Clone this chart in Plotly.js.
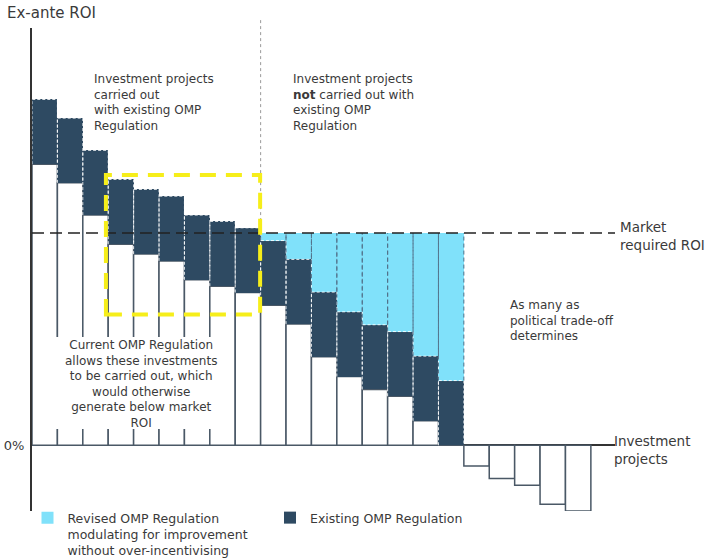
<!DOCTYPE html>
<html><head><meta charset="utf-8">
<script src="https://cdn.plot.ly/plotly-3.0.1.min.js"></script>
<style>html,body{margin:0;padding:0;background:#fff}#chart{width:708px;height:560px}</style>
</head><body><div id="chart"></div>
<script>
// ---- data (10 = market required ROI) ----
const projects = [1,2,3,4,5,6,7,8,9,10,11,12,13,14,15,16,17,18,19,20,21,22];
const baseROI = [13.25,12.37,10.85,9.48,9.01,8.69,7.80,7.50,7.20,6.60,5.71,4.17,3.24,2.63,2.31,1.15,0,-0.98,-1.57,-1.89,-2.78,-3.10];
const existingOMP = [3.05,3.05,3.05,3.05,3.05,3.05,3.05,3.05,3.05,3.05,3.05,3.05,3.05,3.05,3.05,3.05,3.05,0,0,0,0,0];
const revisedOMP = [0,0,0,0,0,0,0,0,0,0.35,1.24,2.78,3.71,4.32,4.64,5.80,6.95,0,0,0,0,0];
const marketROI = 10;
const yTickVals = [0];
const yTickText = ['0%'];
const splitAt = 9.5;           // boundary between carried-out / not carried-out
const highlightBox = {x0: 3.41, x1: 9.48, y0: 6.16, y1: 12.74};

// ---- styling / layout ----
const FONT = '"DejaVu Sans", sans-serif';
const TXT = '#3a3a3a';
const DARK = '#2e4a62';
const LIGHT = '#80e1fa';
const xRange = [0.5, 23.45];
const yRange = [-3.1, 19.67];
const M = {l: 32, r: 93, t: 28, b: 49, autoexpand: false};
const PW = 708 - M.l - M.r, PH = 560 - M.t - M.b;
const px = x => (x - M.l) / PW;
const py = y => (M.t + PH - y) / PH;

// dashed outlines of the OMP segments, built from the data
const darkX = [], darkY = [], lightX = [], lightY = [];
projects.forEach((p, i) => {
  if (existingOMP[i] > 0) {
    const b = Math.max(baseROI[i], 0), t = b + existingOMP[i];
    darkX.push(p - 0.5, p - 0.5, p + 0.5, p + 0.5, null);
    darkY.push(b, t, t, b, null);
    if (revisedOMP[i] > 0) {
      const t2 = t + revisedOMP[i];
      lightX.push(p - 0.5, p - 0.5, null, p + 0.5, p + 0.5, null);
      lightY.push(t, t2, null, t, t2, null);
    }
  }
});

const traces = [
  {type: 'bar', x: projects, y: baseROI, width: 1, showlegend: false, hoverinfo: 'skip',
   marker: {color: '#ffffff', line: {color: '#4a5866', width: 1.5}}},
  {type: 'bar', x: projects, y: existingOMP, width: 1, name: 'Existing OMP Regulation', legend: 'legend2',
   marker: {color: DARK, line: {width: 0}}},
  {type: 'bar', x: projects, y: revisedOMP, width: 1, legend: 'legend',
   name: 'Revised OMP Regulation<br>modulating for improvement<br>without over-incentivising',
   marker: {color: LIGHT, line: {width: 0}}},
  {type: 'scatter', mode: 'lines', x: darkX, y: darkY, showlegend: false, hoverinfo: 'skip',
   line: {color: 'rgba(255,255,255,0.85)', width: 1, dash: '3px,2px'}},
  {type: 'scatter', mode: 'lines', x: lightX, y: lightY, showlegend: false, hoverinfo: 'skip',
   line: {color: '#52718a', width: 1, dash: '4px,3px'}}
];

const annotations = [];
function addBlock(text, x, yc, size, anchor) {
  annotations.push({
    xref: 'paper', yref: 'paper', x: px(x), y: py(yc), text: text, showarrow: false,
    xanchor: anchor || 'left', yanchor: 'middle', align: anchor === 'center' ? 'center' : 'left',
    font: {family: FONT, size: size, color: TXT}
  });
}
addBlock('Ex-ante ROI', 5, 13, 15);
addBlock('Investment projects<br>carried out<br>with existing OMP<br>Regulation', 92, 102, 12);
addBlock('Investment projects<br><b>not</b> carried out with<br>existing OMP<br>Regulation', 291, 102, 12);
addBlock('Current OMP Regulation<br>allows these investments<br>to be carried out, which<br>would otherwise<br>generate below market<br>ROI', 141, 384, 12, 'center');
addBlock('As many as<br>political trade-off<br>determines', 508, 320, 12);
addBlock('Market<br>required ROI', 618, 236, 13.5);
addBlock('Investment<br>projects', 612, 450, 13.5);

const frac = v => (v - yRange[0]) / (yRange[1] - yRange[0]);
const splitFrac = (splitAt - xRange[0]) / (xRange[1] - xRange[0]);
const shapes = [
  {type: 'rect', xref: 'paper', yref: 'paper', x0: px(50), x1: px(228), y0: py(337), y1: py(429),
   fillcolor: '#ffffff', line: {width: 0}, layer: 'above'},
  {type: 'line', xref: 'paper', yref: 'paper', x0: 0, x1: 1, y0: frac(marketROI), y1: frac(marketROI),
   line: {color: '#222', width: 1.5, dash: '12px,6px'}, layer: 'above'},
  {type: 'line', xref: 'paper', yref: 'paper', x0: splitFrac, x1: splitFrac,
   y0: frac(marketROI), y1: py(20), line: {color: '#9a9a9a', width: 1, dash: 'dot'}, layer: 'above'},
  {type: 'rect', xref: 'x', yref: 'y', x0: highlightBox.x0, x1: highlightBox.x1, y0: highlightBox.y0, y1: highlightBox.y1,
   line: {color: '#f6ee1a', width: 4, dash: '16px,10px'}, fillcolor: 'rgba(0,0,0,0)', layer: 'above'}
];

const legendBase = {orientation: 'v', xanchor: 'left', yanchor: 'top', valign: 'top',
                    font: {family: FONT, size: 12.5, color: TXT}, bgcolor: 'rgba(0,0,0,0)'};
const layout = {
  width: 708, height: 560, margin: M, paper_bgcolor: '#fff', plot_bgcolor: '#fff',
  barmode: 'relative', bargap: 0,
  font: {family: FONT, color: TXT},
  xaxis: {range: xRange, showgrid: false, zeroline: false, showline: false, showticklabels: false, ticks: '', fixedrange: true},
  yaxis: {range: yRange, showgrid: false, zeroline: true, zerolinecolor: '#333', zerolinewidth: 1.5,
          showline: true, linecolor: '#333', linewidth: 2, tickvals: yTickVals, ticktext: yTickText,
          ticks: '', ticklabelstandoff: 3, tickfont: {family: FONT, size: 13, color: TXT}, fixedrange: true},
  legend: Object.assign({}, legendBase, {x: px(27.5), y: py(503)}),
  legend2: Object.assign({}, legendBase, {x: px(270), y: py(503)}),
  annotations: annotations, shapes: shapes, showlegend: true
};
Plotly.newPlot('chart', traces, layout, {displayModeBar: false, staticPlot: true});
</script></body></html>
